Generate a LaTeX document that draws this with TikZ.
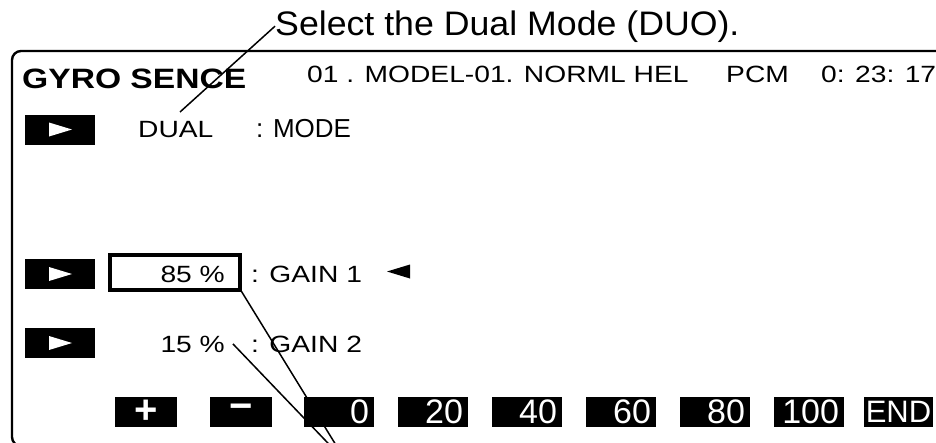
\documentclass[tikz,border=0pt]{standalone}
\usepackage{fontspec}
\setmainfont{Liberation Sans}[FakeStretch=1.2]
\newfontfamily\keyfont{Liberation Sans}
\newfontfamily\titlefont{Liberation Sans}[FakeStretch=1.05]
\usetikzlibrary{positioning,calc}
\def\sz(#1){\fontsize{#1}{#1}\selectfont}

\tikzset{
  txt/.style={anchor=base west, inner sep=0pt, font=\sz(23.5)},
  pct/.style={anchor=base east, inner sep=0pt, font=\sz(23.5)},
  selbox/.style={fill=black, minimum width=70pt, minimum height=30pt, inner sep=0pt},
  key/.style={fill=black, text=white, minimum height=30pt, inner sep=0pt, font=\keyfont\sz(34)},
  numkey/.style={key, inner xsep=5pt, text width=60pt, align=right},
  leader/.style={line width=1.5pt}
}

\begin{document}
\begin{tikzpicture}[x=1pt,y=-1pt] %[every node/.style={draw}]
\useasboundingbox (0,0) rectangle (936,442);
\clip (0,0) rectangle (936,442);
\draw[line width=2.4pt, rounded corners=9pt] (960,51) -- (12,51) -- (12,446) -- (960,446);
\node[anchor=base west, inner sep=0pt, font=\titlefont\sz(34)] (title) at (275,35) {Select the Dual Mode (DUO).};
\node[anchor=base west, inner sep=0pt, font=\bfseries\sz(28)] (gyro) at (22,88) {GYRO SENCE};
\node[txt] (model) at (307,82) {01 . MODEL-01. NORML HEL};
\node[txt] (pcm) at (726,82) {PCM};
\node[txt] (timer) at (821,82) {0: 23: 17};
\foreach \nm/\yy in {dual/129.5, gaina/274, gainb/343} {
  \node[selbox] (sel-\nm) at (60,\yy) {};
  \fill[white] ([xshift=-11pt,yshift=7pt]sel-\nm.center) -- ([xshift=12pt]sel-\nm.center) -- ([xshift=-11pt,yshift=-7pt]sel-\nm.center) -- cycle;
}
\node[txt] (dual) at (138,137) {DUAL};
\node[txt, font=\keyfont\sz(26)] (mode) at (256,137) {: MODE};
\node[draw, line width=3.2pt, minimum width=130pt, minimum height=35pt, inner sep=0pt] (box1) at (175,272.5) {};
\node[pct] (pct1) at (225,282) {85 \%};
\node[txt] (gain1) at (251,282) {: GAIN 1};
\fill (387,271.5) -- (410,264.5) -- (410,278.5) -- cycle;
\node[pct] (pct2) at (225,352) {15 \%};
\node[txt] (gain2) at (251,352) {: GAIN 2};
\node[key, minimum width=62pt, font=\keyfont\bfseries\sz(40)] (kplus) at (146,412) {+};
\node[key, minimum width=62pt, font=\keyfont\bfseries\sz(40)] (kminus) at (241,412) {−};
\foreach \v [count=\i from 0] in {0,20,40,60,80,100}
  \node[numkey] (k\v) at (339+94*\i,412) {\v};
\node[key, inner xsep=1.5pt, font=\keyfont\sz(31)] (kend) at (898.5,412) {END};
\coordinate (dualtip) at (180,112);
\coordinate (gaintip) at (347,463);
\draw[leader] (title.west) -- (dualtip);
\draw[leader] (box1.south east) -- (gaintip);
\draw[leader] ([xshift=8pt]pct2.east) -- (gaintip);
\end{tikzpicture}
\end{document}
